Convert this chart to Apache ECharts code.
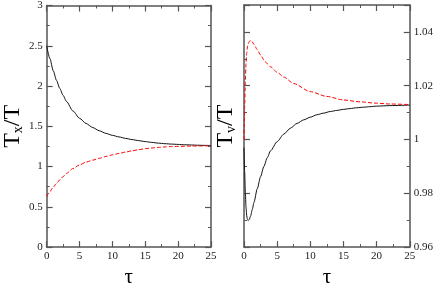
<!DOCTYPE html>
<html>
<head>
<meta charset="utf-8">
<script src="https://cdn.jsdelivr.net/npm/echarts@6/dist/echarts.min.js"></script>
<style>
  html, body { margin: 0; padding: 0; background: #fff; }
  #chart { width: 436px; height: 293px; }
</style>
</head>
<body>
<div id="chart"></div>
<script>
// left panel: T_x/T vs tau
const tauX = [0, 0.5, 1, 1.5, 2, 2.5, 3, 4, 5, 6, 7, 8, 9, 10, 11, 12, 13, 14, 15, 16, 17, 18, 19, 20, 21, 22, 23, 24, 25];
const txBlack = [2.5, 2.34, 2.19, 2.07, 1.97, 1.885, 1.81, 1.69, 1.60, 1.535, 1.485, 1.445, 1.413, 1.388, 1.368, 1.35, 1.335, 1.322, 1.31, 1.3, 1.291, 1.284, 1.279, 1.275, 1.271, 1.268, 1.265, 1.263, 1.262];
const tauXr = [0, 0.5, 1, 1.5, 2, 2.5, 3, 4, 5, 6, 7, 8, 9, 10, 11, 12, 13, 14, 15, 16, 17, 18, 19, 20, 22, 25];
const txRed = [0.63, 0.69, 0.745, 0.79, 0.835, 0.875, 0.915, 0.975, 1.02, 1.055, 1.08, 1.102, 1.125, 1.145, 1.163, 1.18, 1.196, 1.21, 1.222, 1.231, 1.238, 1.244, 1.248, 1.251, 1.255, 1.258];

// right panel: T_v/T vs tau
const tauV = [0, 0.1, 0.2, 0.3, 0.4, 0.5, 0.65, 0.8, 1, 1.25, 1.5, 2, 2.5, 3, 3.5, 4, 5, 6, 7, 8, 9, 10, 11, 12, 13, 14, 15, 16, 17, 18, 19, 20, 22, 25];
const tvBlack = [0.997, 0.988, 0.9805, 0.975, 0.9718, 0.9704, 0.9699, 0.9703, 0.9716, 0.974, 0.9766, 0.9817, 0.9862, 0.99, 0.9932, 0.9958, 0.9992, 1.002, 1.0042, 1.006, 1.0073, 1.0083, 1.0092, 1.0098, 1.0104, 1.0108, 1.0112, 1.0115, 1.0118, 1.012, 1.0122, 1.0124, 1.0126, 1.0128];
const tauVr = [0, 0.05, 0.1, 0.2, 0.3, 0.4, 0.55, 0.7, 0.85, 1, 1.2, 1.5, 2, 2.5, 3, 3.5, 4, 5, 6, 7.5, 10, 12.5, 15, 17.5, 20, 22, 25];
const tvRed = [1.0, 1.006, 1.012, 1.0215, 1.028, 1.032, 1.0348, 1.036, 1.0366, 1.0368, 1.0364, 1.0354, 1.0334, 1.0314, 1.0296, 1.0282, 1.027, 1.025, 1.0232, 1.0208, 1.0178, 1.016, 1.0147, 1.014, 1.0135, 1.0132, 1.013];

const serif = 'Liberation Serif';
const axisColor = '#555';

function pairs(xs, ys) { return xs.map((x, i) => [x, ys[i]]); }

function xAx(grid, pos, labels, name) {
  return {
    type: 'value', gridIndex: grid, position: pos, min: 0, max: 25, interval: 5,
    name: name, nameLocation: 'middle', nameGap: 14,
    nameTextStyle: { fontFamily: serif, fontSize: 21, color: '#000' },
    axisLine: { show: true, onZero: false, lineStyle: { color: axisColor, width: 1.5 } },
    axisTick: { show: true, inside: true, length: 6, lineStyle: { color: axisColor, width: 1.2 } },
    minorTick: { show: true, splitNumber: 2, length: 3, lineStyle: { color: axisColor, width: 1 } },
    axisLabel: { show: labels, fontFamily: serif, fontSize: 11, color: '#222', margin: 4 },
    splitLine: { show: false }
  };
}

function yAx(grid, pos, min, max, interval, labels, name, gap) {
  return {
    type: 'value', gridIndex: grid, position: pos, min: min, max: max, interval: interval,
    name: name, nameLocation: 'middle', nameGap: gap, nameRotate: 90,
    nameTextStyle: { fontFamily: serif, color: '#000',
      rich: {
        a: { fontFamily: serif, fontSize: 24, color: '#000' },
        s: { fontFamily: serif, fontSize: 14, color: '#000', padding: [10, 0, 0, 0] }
      } },
    axisLine: { show: true, onZero: false, lineStyle: { color: axisColor, width: 1.5 } },
    axisTick: { show: true, inside: true, length: 6, lineStyle: { color: axisColor, width: 1.2 } },
    minorTick: { show: true, splitNumber: 2, length: 3, lineStyle: { color: axisColor, width: 1 } },
    axisLabel: { show: labels, showMaxLabel: max === 3, fontFamily: serif, fontSize: 11, color: '#222', margin: 4 },
    splitLine: { show: false }
  };
}

function curve(xi, data, color, dashed) {
  return {
    type: 'line', xAxisIndex: xi, yAxisIndex: xi, data: data,
    smooth: 0.25, smoothMonotone: 'x', symbol: 'none',
    lineStyle: { color: color, width: 1, type: dashed ? [4, 2] : 'solid' }
  };
}

const chart = echarts.init(document.getElementById('chart'));
chart.setOption({
  animation: false,
  backgroundColor: '#fff',
  grid: [
    { left: 42, right: 225, top: 5, bottom: 26 },
    { left: 244, right: 23, top: 5, bottom: 26 }
  ],
  xAxis: [
    xAx(0, 'bottom', true, 'τ'),
    xAx(0, 'top', false, ''),
    xAx(1, 'bottom', true, 'τ'),
    xAx(1, 'top', false, '')
  ],
  yAxis: [
    yAx(0, 'left', 0, 3, 0.5, true, '{a|T}{s|x}{a|/T}', 14),
    yAx(0, 'right', 0, 3, 0.5, false, '', 0),
    yAx(1, 'right', 0.96, 1.05, 0.02, true, '', 0),
    yAx(1, 'left', 0.96, 1.05, 0.02, false, '{a|T}{s|v}{a|/T}', 6)
  ],
  series: [
    curve(0, pairs(tauX, txBlack), '#111', false),
    curve(0, pairs(tauXr, txRed), '#ff0000', true),
    curve(2, pairs(tauV, tvBlack), '#111', false),
    curve(2, pairs(tauVr, tvRed), '#ff0000', true)
  ]
});
</script>
</body>
</html>
